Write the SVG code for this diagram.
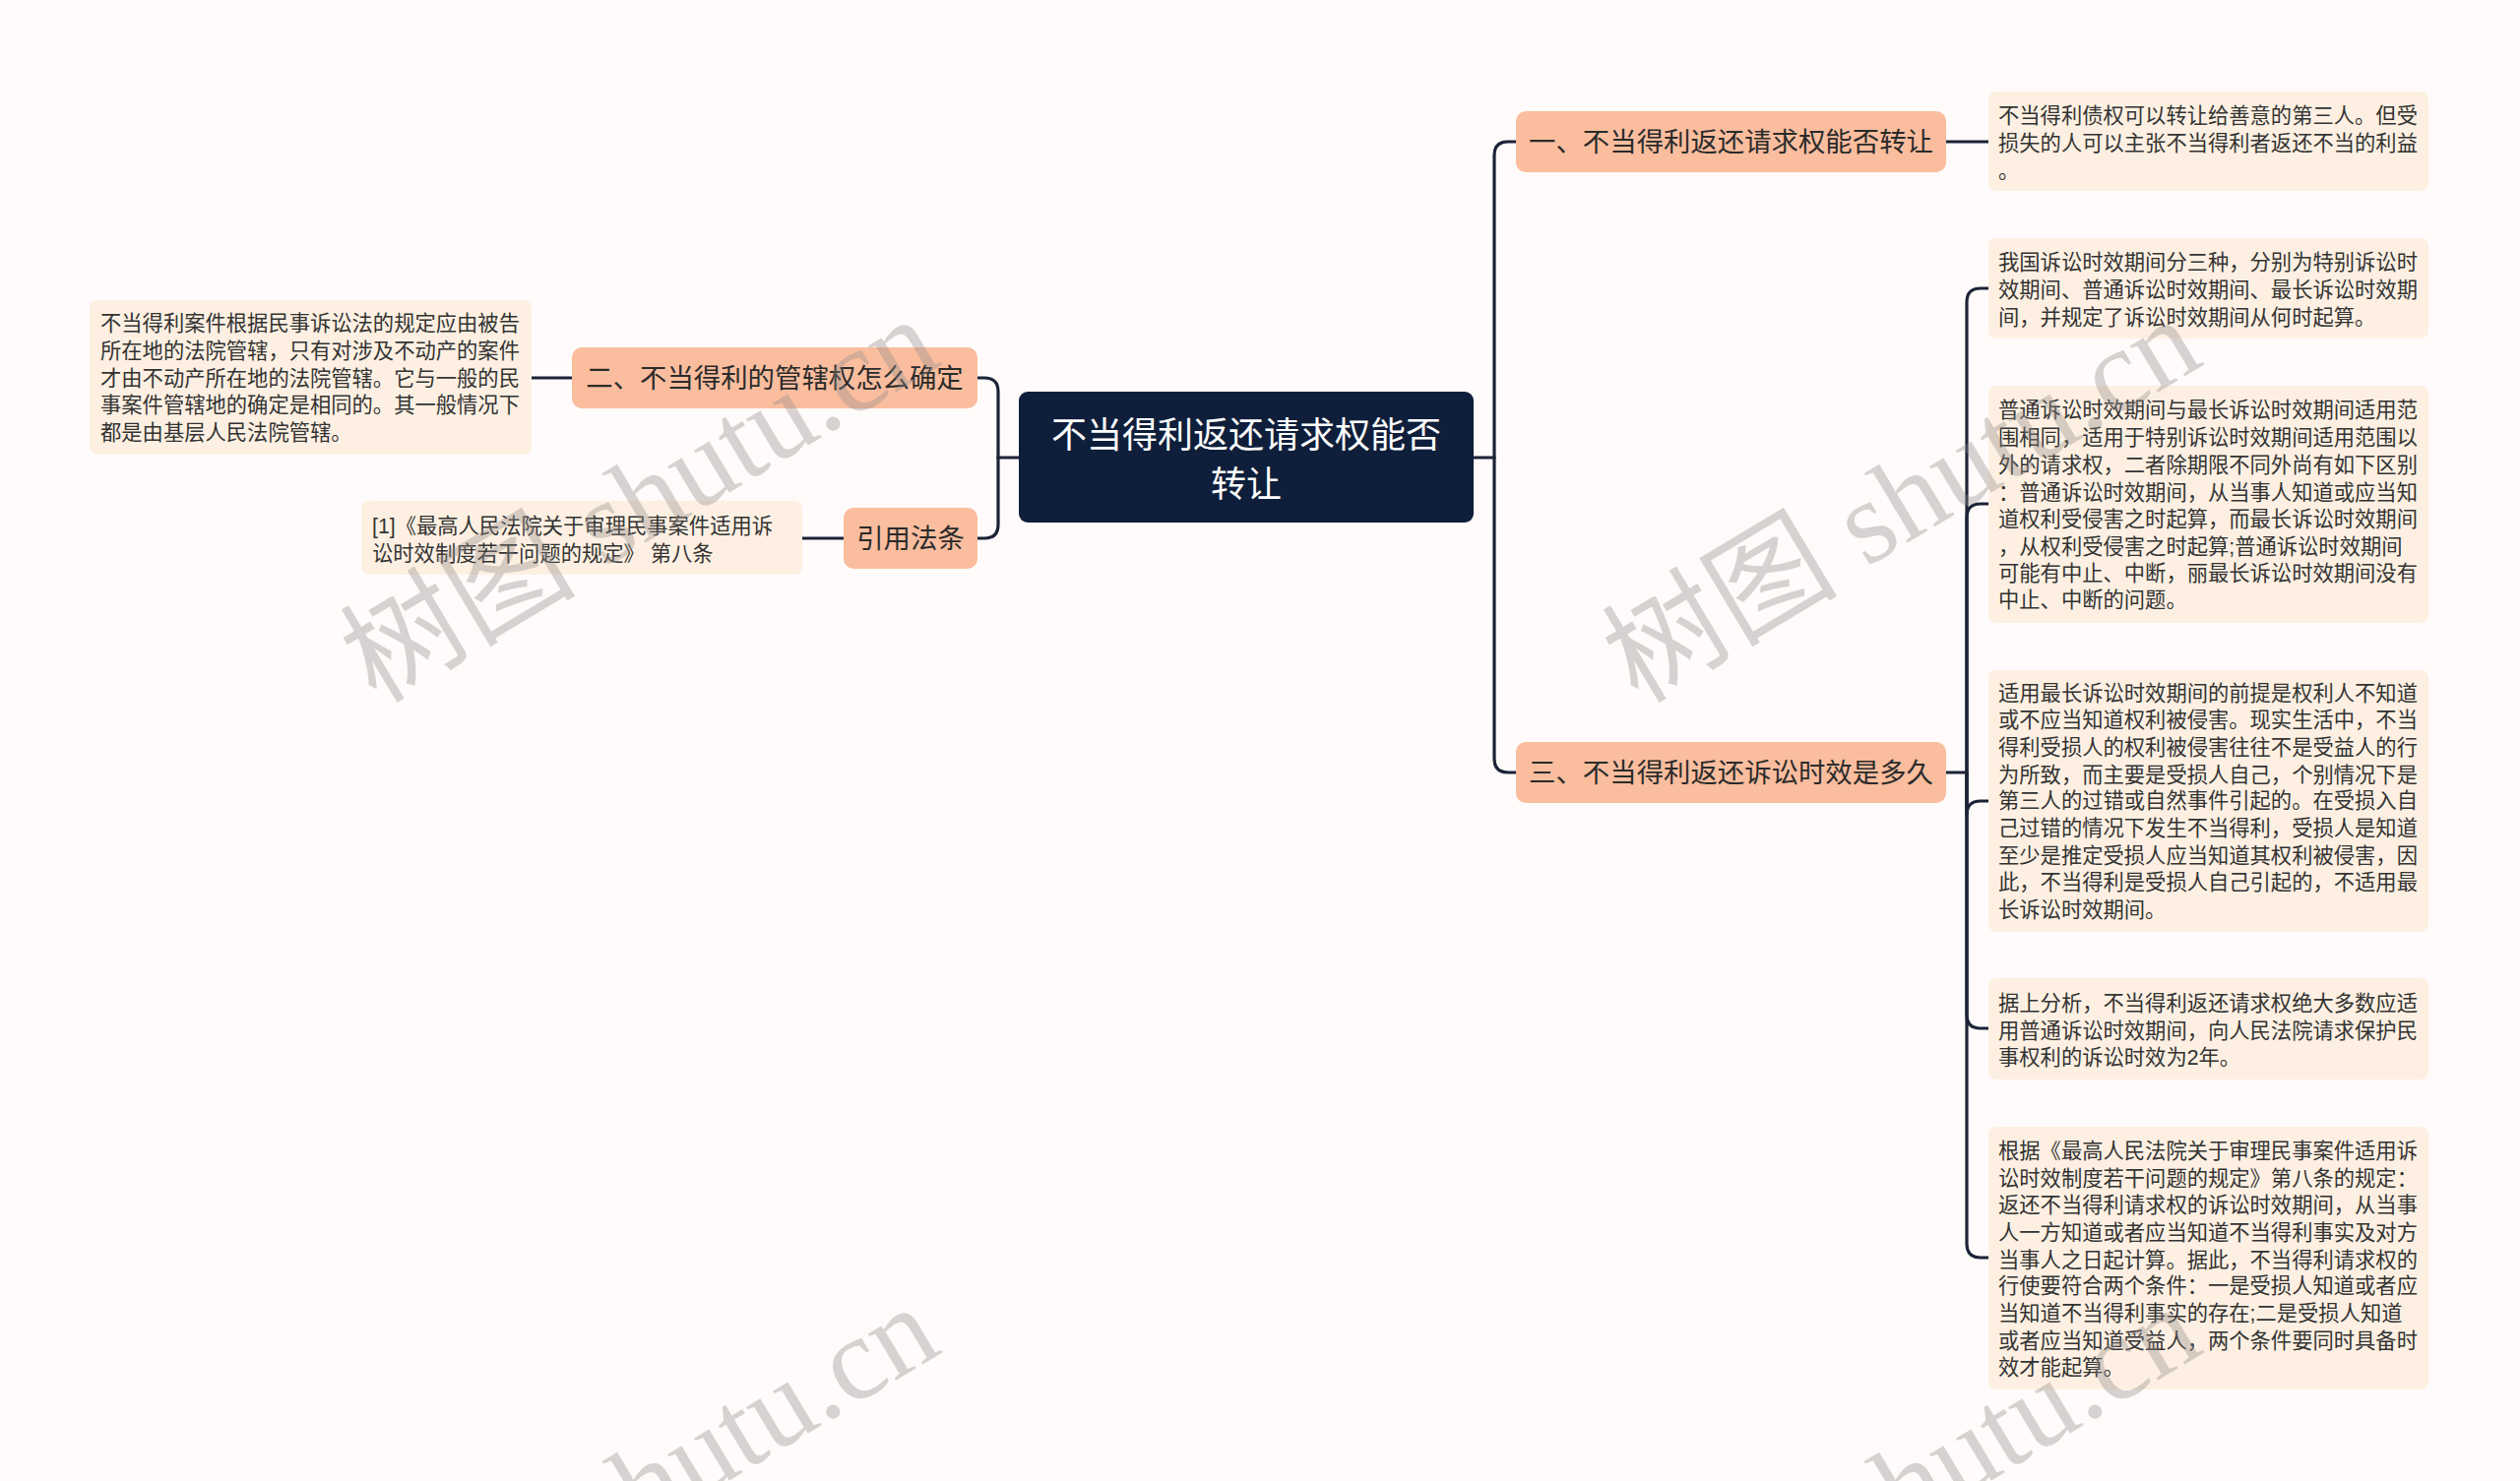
<svg xmlns="http://www.w3.org/2000/svg" width="2560" height="1505" viewBox="0 0 2560 1505">
<style>
.bg{fill:#fffbfa}
.root rect{fill:#0f1f3b}
.root text{fill:#ffffff;font-size:36px;text-anchor:middle}
.l1 rect{fill:#fabd9e}
.l1 text{fill:#2b2b2b;font-size:27.4px;text-anchor:middle}
.leaf rect{fill:#fdf0e2}
.leaf text{fill:#333333;font-size:21.3px}
text{font-family:"Liberation Sans","Noto Sans CJK SC",sans-serif}
.conn path{fill:none;stroke:#1b2337;stroke-width:3.2;stroke-linecap:round}
.wm text{font-family:"Liberation Serif","Noto Sans CJK SC",serif;font-size:120px;fill:#8f8a89;fill-opacity:0.36}
</style>
<rect class="bg" x="0" y="0" width="2560" height="1505"/>
<g class="conn" id="connectors">
<path d="M1497,465 H1518"/>
<path d="M1518,465 V158 Q1518,144 1532,144 H1540"/>
<path d="M1518,465 V771 Q1518,785 1532,785 H1540"/>
<path d="M1977,144 H2020"/>
<path d="M1977,785 H1998"/>
<path d="M1998,785 V307 Q1998,293 2012,293 H2020"/>
<path d="M1998,785 V526 Q1998,512 2012,512 H2020"/>
<path d="M1998,785 V828 Q1998,814 2012,814 H2020"/>
<path d="M1998,785 V1031 Q1998,1045 2012,1045 H2020"/>
<path d="M1998,785 V1264 Q1998,1278 2012,1278 H2020"/>
<path d="M1035,465 H1014"/>
<path d="M1014,465 V398 Q1014,384 1000,384 H993"/>
<path d="M1014,465 V533 Q1014,547 1000,547 H993"/>
<path d="M581,384 H540"/>
<path d="M857,547 H815"/>
</g>
<g class="root" id="root">
<rect x="1035" y="398" width="462" height="133" rx="9"/>
<text x="1266" y="455">不当得利返还请求权能否</text>
<text x="1266" y="505">转让</text>
</g>
<g class="l1" id="n1">
<rect x="1540" y="113" width="437" height="62" rx="10"/>
<text x="1758.5" y="154">一、不当得利返还请求权能否转让</text>
</g>
<g class="l1" id="n2">
<rect x="581" y="353" width="412" height="62" rx="10"/>
<text x="787" y="394">二、不当得利的管辖权怎么确定</text>
</g>
<g class="l1" id="n4">
<rect x="857" y="516" width="136" height="62" rx="10"/>
<text x="925" y="557">引用法条</text>
</g>
<g class="l1" id="n3">
<rect x="1540" y="754" width="437" height="62" rx="10"/>
<text x="1758.5" y="795">三、不当得利返还诉讼时效是多久</text>
</g>
<g class="leaf" id="leaf1">
<rect x="2020" y="93" width="447" height="101" rx="8"/>
<text x="2030" y="125">不当得利债权可以转让给善意的第三人。但受</text>
<text x="2030" y="153">损失的人可以主张不当得利者返还不当的利益</text>
<text x="2030" y="181">。</text>
</g>
<g class="leaf" id="leaf2">
<rect x="91" y="305" width="449" height="157" rx="8"/>
<text x="102" y="336">不当得利案件根据民事诉讼法的规定应由被告</text>
<text x="102" y="364">所在地的法院管辖，只有对涉及不动产的案件</text>
<text x="102" y="392">才由不动产所在地的法院管辖。它与一般的民</text>
<text x="102" y="419">事案件管辖地的确定是相同的。其一般情况下</text>
<text x="102" y="447">都是由基层人民法院管辖。</text>
</g>
<g class="leaf" id="leaf3">
<rect x="367" y="509" width="448" height="75" rx="8"/>
<text x="378" y="542">[1]《最高人民法院关于审理民事案件适用诉</text>
<text x="378" y="570">讼时效制度若干问题的规定》 第八条</text>
</g>
<g class="leaf" id="leafA">
<rect x="2020" y="242" width="447" height="102" rx="8"/>
<text x="2030" y="274">我国诉讼时效期间分三种，分别为特别诉讼时</text>
<text x="2030" y="302">效期间、普通诉讼时效期间、最长诉讼时效期</text>
<text x="2030" y="330">间，并规定了诉讼时效期间从何时起算。</text>
</g>
<g class="leaf" id="leafB">
<rect x="2020" y="392" width="447" height="241" rx="8"/>
<text x="2030" y="424">普通诉讼时效期间与最长诉讼时效期间适用范</text>
<text x="2030" y="452">围相同，适用于特别诉讼时效期间适用范围以</text>
<text x="2030" y="480">外的请求权，二者除期限不同外尚有如下区别</text>
<text x="2030" y="508">：普通诉讼时效期间，从当事人知道或应当知</text>
<text x="2030" y="535">道权利受侵害之时起算，而最长诉讼时效期间</text>
<text x="2030" y="563">，从权利受侵害之时起算;普通诉讼时效期间</text>
<text x="2030" y="590">可能有中止、中断，丽最长诉讼时效期间没有</text>
<text x="2030" y="617">中止、中断的问题。</text>
</g>
<g class="leaf" id="leafC">
<rect x="2020" y="681" width="447" height="266" rx="8"/>
<text x="2030" y="712">适用最长诉讼时效期间的前提是权利人不知道</text>
<text x="2030" y="739">或不应当知道权利被侵害。现实生活中，不当</text>
<text x="2030" y="767">得利受损人的权利被侵害往往不是受益人的行</text>
<text x="2030" y="795">为所致，而主要是受损人自己，个别情况下是</text>
<text x="2030" y="821">第三人的过错或自然事件引起的。在受损入自</text>
<text x="2030" y="849">己过错的情况下发生不当得利，受损人是知道</text>
<text x="2030" y="877">至少是推定受损人应当知道其权利被侵害，因</text>
<text x="2030" y="904">此，不当得利是受损人自己引起的，不适用最</text>
<text x="2030" y="932">长诉讼时效期间。</text>
</g>
<g class="leaf" id="leafD">
<rect x="2020" y="994" width="447" height="103" rx="8"/>
<text x="2030" y="1027">据上分析，不当得利返还请求权绝大多数应适</text>
<text x="2030" y="1055">用普通诉讼时效期间，向人民法院请求保护民</text>
<text x="2030" y="1082">事权利的诉讼时效为2年。</text>
</g>
<g class="leaf" id="leafE">
<rect x="2020" y="1145" width="447" height="267" rx="8"/>
<text x="2030" y="1177">根据《最高人民法院关于审理民事案件适用诉</text>
<text x="2030" y="1205">讼时效制度若干问题的规定》第八条的规定：</text>
<text x="2030" y="1232">返还不当得利请求权的诉讼时效期间，从当事</text>
<text x="2030" y="1260">人一方知道或者应当知道不当得利事实及对方</text>
<text x="2030" y="1288">当事人之日起计算。据此，不当得利请求权的</text>
<text x="2030" y="1314">行使要符合两个条件：一是受损人知道或者应</text>
<text x="2030" y="1342">当知道不当得利事实的存在;二是受损人知道</text>
<text x="2030" y="1370">或者应当知道受益人，两个条件要同时具备时</text>
<text x="2030" y="1397">效才能起算。</text>
</g>
<g class="wm" id="watermarks">
<text transform="translate(382,716) rotate(-31)">树图 shutu.cn</text>
<text transform="translate(1664,716) rotate(-31)">树图 shutu.cn</text>
<text transform="translate(382,1720) rotate(-31)">树图 shutu.cn</text>
<text transform="translate(1664,1720) rotate(-31)">树图 shutu.cn</text>
</g>
</svg>
